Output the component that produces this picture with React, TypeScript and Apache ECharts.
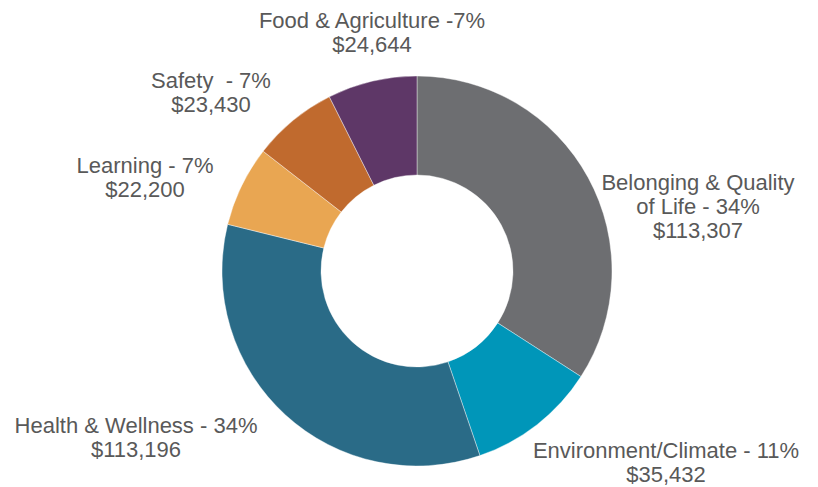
import React, { useEffect, useRef } from "react";
import * as echarts from "echarts";

const categories = [
  "Belonging & Quality of Life",
  "Environment/Climate",
  "Health & Wellness",
  "Learning",
  "Safety",
  "Food & Agriculture",
];
const values = [113307, 35432, 113196, 22200, 23430, 24644];
const labelTexts = [
  "Belonging & Quality\nof Life - 34%",
  "Environment/Climate - 11%",
  "Health & Wellness - 34%",
  "Learning - 7%",
  "Safety  - 7%",
  "Food & Agriculture -7%",
];
const colors = ["#6D6E71", "#0096B9", "#2A6B87", "#E9A652", "#C06A2E", "#5E3767"];
const labelPos: [number, number][] = [
  [698, 206],
  [666, 462],
  [136, 437],
  [145, 177],
  [211, 92],
  [372, 32],
];

export default function App() {
  const ref = useRef<HTMLDivElement>(null);
  useEffect(() => {
    document.body.style.margin = "0";
    const chart = echarts.init(ref.current!, null, { renderer: "svg" });
    chart.setOption({
      animation: false,
      backgroundColor: "#ffffff",
      series: [
        {
          type: "pie",
          center: [417, 271],
          radius: [96, 195],
          startAngle: 90,
          clockwise: true,
          avoidLabelOverlap: false,
          itemStyle: { borderColor: "#ffffff", borderWidth: 0.4 },
          label: {
            show: true,
            position: "outside",
            fontFamily: "Liberation Sans",
            fontSize: 22,
            lineHeight: 24,
            color: "#595959",
            align: "center",
            formatter: (p: any) =>
              `${labelTexts[p.dataIndex]}\n$${(p.value as number).toLocaleString("en-US")}`,
          },
          labelLine: { show: false },
          labelLayout: (p: any) => ({
            x: labelPos[p.dataIndex][0],
            y: labelPos[p.dataIndex][1],
            align: "center",
            verticalAlign: "middle",
          }),
          data: categories.map((c, i) => ({
            name: c,
            value: values[i],
            itemStyle: { color: colors[i] },
          })),
        },
      ],
    });
    return () => chart.dispose();
  }, []);
  return <div ref={ref} style={{ width: 818, height: 487 }} />;
}
